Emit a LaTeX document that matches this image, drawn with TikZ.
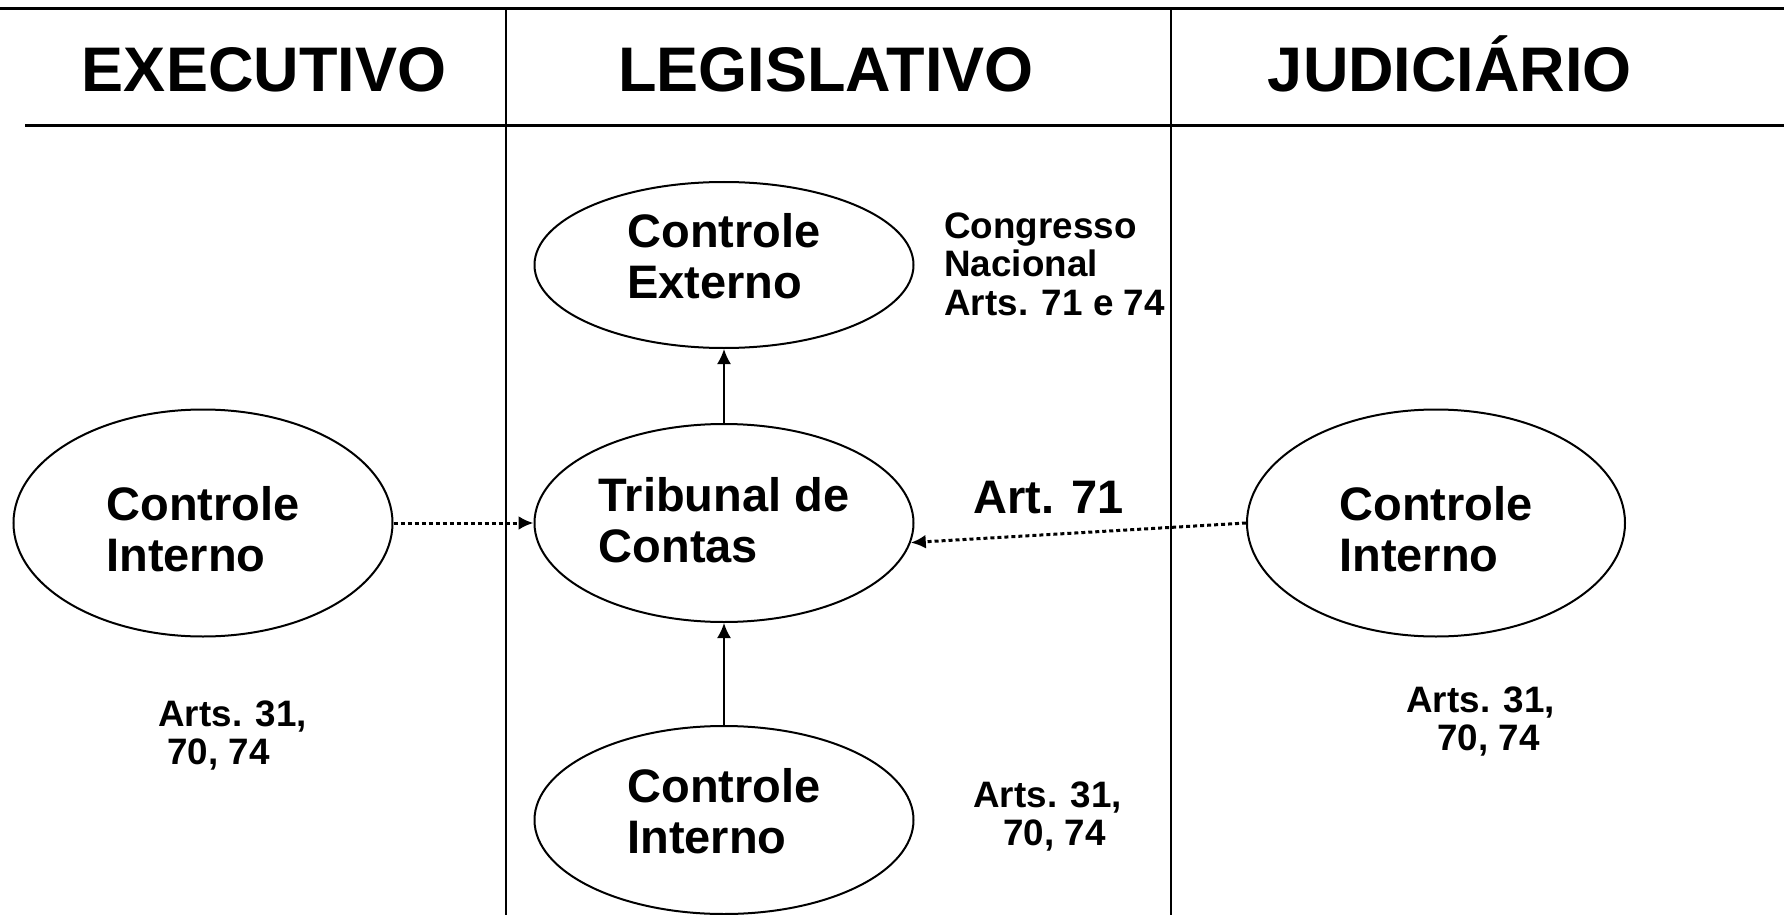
\documentclass[tikz,border=0pt]{standalone}
\usepackage{fontspec}
\setmainfont{Liberation Sans}
\usetikzlibrary{shapes.geometric,arrows.meta,positioning}

\begin{document}
\begin{tikzpicture}[x=0.5pt, y=-0.5pt,
  poder/.style={font=\fontsize{31.5}{34}\selectfont\bfseries, inner sep=0, anchor=base},
  orgao/.style={ellipse, draw, line width=1pt, inner sep=0, align=left,
    font=\fontsize{23.5}{25.5}\selectfont\bfseries},
  rotulo/.style={inner sep=0, anchor=base west, font=\fontsize{23.5}{25.5}\selectfont\bfseries},
  artigo/.style={inner sep=0, align=left, anchor=north west,
    font=\fontsize{18.4}{19.3}\selectfont\bfseries},
  fluxo/.style={line width=1pt, -{Latex[length=7.5pt, width=7pt]}},
  fluxopont/.style={fluxo, line width=1.5pt, dash pattern=on 2pt off 1.5pt}]
  % Drawing parameters
  \pgfmathsetmacro{\maxx}{1784}
  \pgfmathsetmacro{\maxy}{915}
  \pgfmathsetmacro{\colA}{506}
  \pgfmathsetmacro{\colB}{1171}

  \useasboundingbox (0,0) rectangle (\maxx,\maxy);

  % table lines
  \draw[line width=1.5pt] (0,9) -- (\maxx,9);
  \draw[line width=1.5pt] (25,126) -- (\maxx,126);
  \draw[line width=1pt] (\colA,9) -- (\colA,\maxy);
  \draw[line width=1pt] (\colB,9) -- (\colB,\maxy);

  % headers
  \node[poder] (exec) at (264,92) {EXECUTIVO};
  \node[poder] (legis) at (826,92) {LEGISLATIVO};
  \node[poder] (judic) at (1450,92) {JUDICIÁRIO};

  % ellipses
  \node[orgao, minimum width=189.5pt, minimum height=113.5pt] (ciexec) at (203,523) {\rule{0pt}{23pt}Controle\\Interno};
  \node[orgao, minimum width=189.5pt, minimum height=83pt, text depth=9pt] (cext) at (724,265) {Controle\\Externo};
  \node[orgao, minimum width=189.5pt, minimum height=99pt, text depth=3pt] (tcu) at (724,523) {Tribunal de\\Contas};
  \node[orgao, minimum width=189.5pt, minimum height=94pt, text depth=9pt] (cilegis) at (724,820) {Controle\\Interno};
  \node[orgao, minimum width=189pt, minimum height=113.5pt] (cijud) at (1436,523) {\rule{0pt}{23pt}Controle\\Interno};

  % articles
  \node[artigo] (congresso) at (944,212) {Congresso\\Nacional\\Arts. 71 e 74};
  \node[rotulo] (art71) at (973,513) {Art. 71};
  \node[artigo] (artexec) at (158,700) {Arts. 31,\\\hspace*{4.5pt}70, 74};
  \node[artigo] (artlegis) at (973,781) {Arts. 31,\\\hspace*{15pt}70, 74};
  \node[artigo] (artjud) at (1406,686) {Arts. 31,\\\hspace*{15.5pt}70, 74};

  % arrows
  \draw[fluxo] (tcu) -- (cext);
  \draw[fluxo] (cilegis) -- (tcu);
  \draw[fluxopont] (ciexec) -- (tcu);
  \draw[fluxopont] (cijud.west) -- (tcu.-6);

\end{tikzpicture}
\end{document}
